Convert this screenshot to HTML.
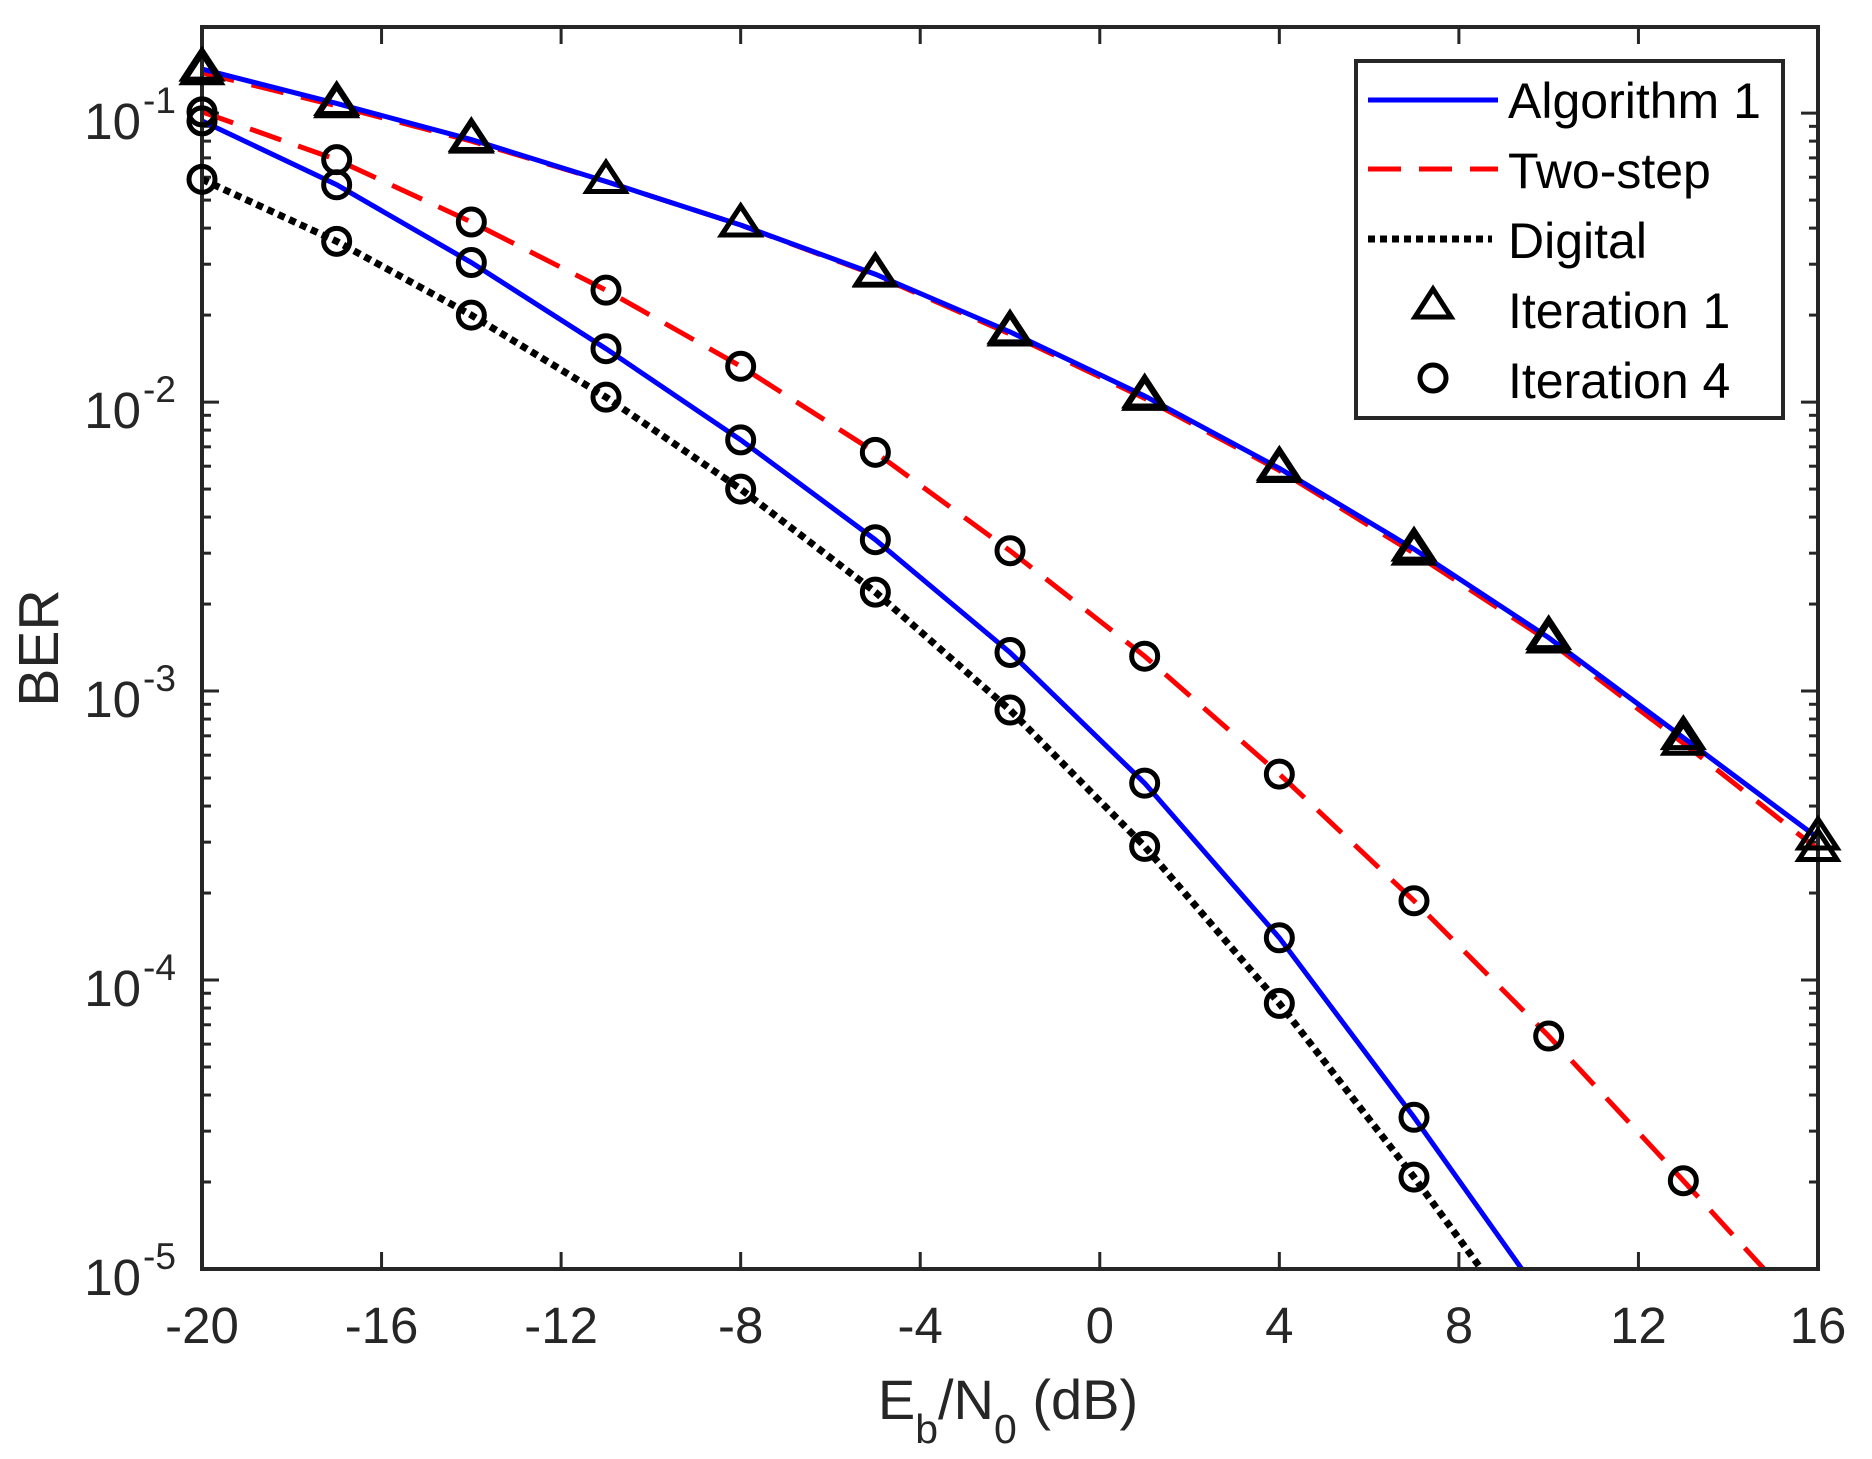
<!DOCTYPE html>
<html><head><meta charset="utf-8"><style>
html,body{margin:0;padding:0;background:#fff;}
svg{display:block;font-family:"Liberation Sans",Arial,sans-serif;}
</style></head><body>
<svg id="chart" width="1872" height="1459" viewBox="0 0 1872 1459">
<defs><clipPath id="pc"><rect x="202" y="27" width="1616" height="1242"/></clipPath></defs>
<rect x="0" y="0" width="1872" height="1459" fill="#fff"/>
<g id="ticks"></g>
<g id="series" clip-path="url(#pc)"></g>
<rect x="202" y="27" width="1616" height="1242" fill="none" stroke="#262626" stroke-width="4"/>
<g id="markers"></g>
<text x="58" y="648" font-size="57" fill="#262626" text-anchor="middle" transform="rotate(-90 58 648)">BER</text>
<text x="1008" y="1419" font-size="56" fill="#262626" text-anchor="middle">E<tspan font-size="41" dy="24">b</tspan><tspan dy="-24">/N</tspan><tspan font-size="41" dy="24">0</tspan><tspan dy="-24"> (dB)</tspan></text>
<g>
<rect x="1356" y="61" width="427" height="357" fill="#fff" stroke="#262626" stroke-width="4"/>
<line x1="1368" y1="100" x2="1498" y2="100" stroke="#0000ff" stroke-width="5"/>
<text x="1508" y="118" font-size="50" fill="#000">Algorithm 1</text>
<line x1="1368" y1="169" x2="1498" y2="169" stroke="#ff0000" stroke-width="5" stroke-dasharray="33,18"/>
<text x="1508" y="188" font-size="50" fill="#000">Two-step</text>
<line x1="1368" y1="239" x2="1492" y2="239" stroke="#000" stroke-width="7" stroke-dasharray="7,5"/>
<text x="1508" y="258" font-size="50" fill="#000">Digital</text>
<polygon points="1433,289 1451,317 1415,317" fill="none" stroke="#000" stroke-width="5"/>
<text x="1508" y="328" font-size="50" fill="#000">Iteration 1</text>
<circle cx="1433" cy="378" r="13" fill="none" stroke="#000" stroke-width="5"/>
<text x="1508" y="398" font-size="50" fill="#000">Iteration 4</text>
</g>
</svg>
<script>
const snr = [-20,-17,-14,-11,-8,-5,-2,1,4,7,10,13,16];
const alg1Iter1 = [0.142,0.108,0.081,0.058,0.041,0.0277,0.0175,0.0105,0.0059,0.0031,0.00153,0.00069,0.00031];
const twoStepIter1 = [0.138,0.106,0.080,0.058,0.041,0.0275,0.0172,0.0103,0.0058,0.0030,0.00149,0.00066,0.000283];
const alg1Iter4 = [0.094,0.0565,0.0304,0.0153,0.0074,0.00334,0.00136,0.00048,0.00014,3.35e-5,7.4e-6];
const twoStepIter4 = [0.101,0.069,0.042,0.0244,0.0133,0.0067,0.00306,0.00132,0.000516,0.000188,6.4e-5,2.02e-5,6.25e-6];
const digital = [0.059,0.036,0.020,0.0104,0.0050,0.0022,0.00086,0.00029,8.3e-5,2.08e-5,4.8e-6];
const xTicks = [-20,-16,-12,-8,-4,0,4,8,12,16];
const yDecades = [-1,-2,-3,-4,-5];

const NS="http://www.w3.org/2000/svg";
const L=202,R=1818,T=27,B=1269;
const xMin=-20,xMax=16,yMinLog=-5,yMaxLog=-0.702;
function xs(v){return L+(v-xMin)/(xMax-xMin)*(R-L);}
function ys(v){return B-(Math.log10(v)-yMinLog)/(yMaxLog-yMinLog)*(B-T);}
function mk(tag,attrs,parent){const e=document.createElementNS(NS,tag);for(const k in attrs)e.setAttribute(k,attrs[k]);parent.appendChild(e);return e;}
const gT=document.getElementById('ticks'),gS=document.getElementById('series'),gM=document.getElementById('markers');

xTicks.forEach(t=>{
  const x=xs(t);
  let a=mk('line',{x1:x,y1:B,x2:x,y2:B-17,stroke:'#262626','stroke-width':3},gT);
  
  
  let b=mk('line',{x1:x,y1:T,x2:x,y2:T+17,stroke:'#262626','stroke-width':3},gT);
  
  
  const lab=mk('text',{x:x,y:1343,'font-size':51,fill:'#262626','text-anchor':'middle'},gT);
  lab.textContent=String(t);
  
  
});
yDecades.forEach(d=>{
  const y=ys(Math.pow(10,d));
  [[L,L+17],[R,R-17]].forEach(p=>{
    const l=mk('line',{x1:p[0],y1:y,x2:p[1],y2:y,stroke:'#262626','stroke-width':3},gT);
    
    
  });
  const lab=mk('text',{x:141,y:y+26,'font-size':51,fill:'#262626','text-anchor':'end'},gT);
  lab.textContent='10';
  
  
  const sup=mk('text',{x:143,y:y,'font-size':37,fill:'#262626'},gT);
  sup.textContent=String(d);
  
  
  for(let m=2;m<=9;m++){
    const v=m*Math.pow(10,d);
    if(Math.log10(v)>yMaxLog)continue;
    const ym=ys(v);
    [[L,L+9],[R,R-9]].forEach(p=>{
      const l=mk('line',{x1:p[0],y1:ym,x2:p[1],y2:ym,stroke:'#262626','stroke-width':3},gT);
      
      
    });
  }
});

function series(vals,color,width,dash,name){
  const pts=vals.map((v,i)=>xs(snr[i])+','+ys(v)).join(' ');
  const a={points:pts,fill:'none',stroke:color,'stroke-width':width};
  if(dash)a['stroke-dasharray']=dash;
  const p=mk('polyline',a,gS);
  
  
}
function inRange(v){return Math.log10(v)>=yMinLog;}
function tri(vals,name){
  vals.forEach((v,i)=>{
    if(!inRange(v))return;
    const x=xs(snr[i]),y=ys(v);
    const p=mk('polygon',{points:`${x},${y-19} ${x+19},${y+10} ${x-19},${y+10}`,fill:'none',stroke:'#000','stroke-width':5},gM);
    
    
  });
}
function circ(vals,name){
  vals.forEach((v,i)=>{
    if(!inRange(v))return;
    const c=mk('circle',{cx:xs(snr[i]),cy:ys(v),r:13,fill:'none',stroke:'#000','stroke-width':5},gM);
    
    
  });
}
series(digital,'#000',7,'7,5','digital-line');
series(twoStepIter4,'#ff0000',5,'33,18','twostep-iter4-line');
series(twoStepIter1,'#ff0000',5,'33,18','twostep-iter1-line');
series(alg1Iter4,'#0000ff',5,null,'algorithm1-iter4-line');
series(alg1Iter1,'#0000ff',5,null,'algorithm1-iter1-line');
tri(alg1Iter1,'algorithm1-iter1-marker');
tri(twoStepIter1,'twostep-iter1-marker');
circ(alg1Iter4,'algorithm1-iter4-marker');
circ(twoStepIter4,'twostep-iter4-marker');
circ(digital,'digital-marker');
</script>
</body></html>
